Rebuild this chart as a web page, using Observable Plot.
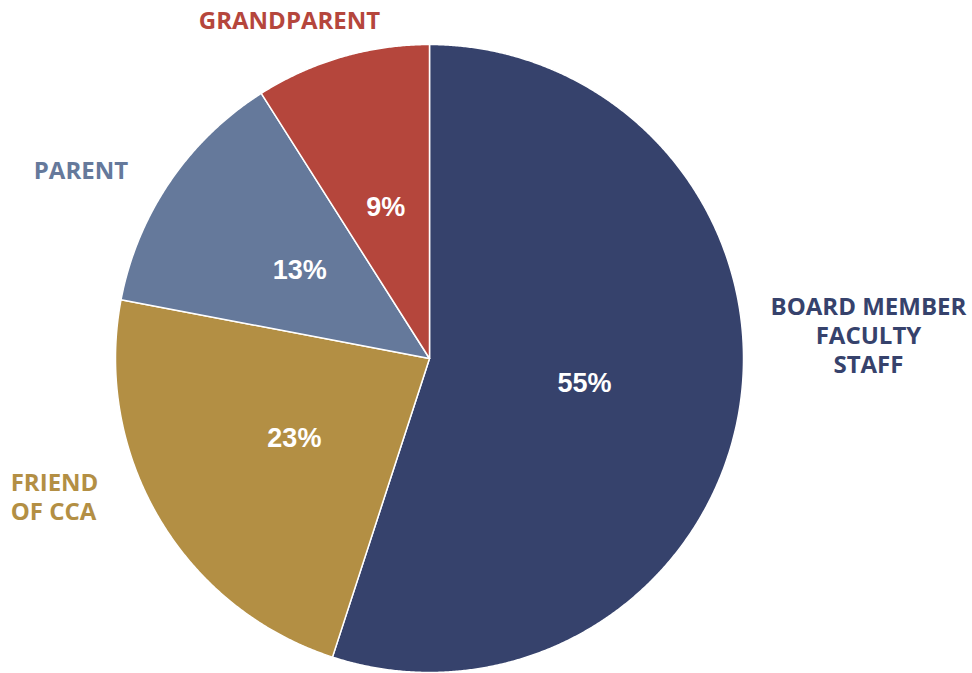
<!DOCTYPE html>
<html>
<head>
<meta charset="utf-8">
<script src="https://cdn.jsdelivr.net/npm/d3@7"></script>
<script src="https://cdn.jsdelivr.net/npm/@observablehq/plot@0.6"></script>
<style>
  html, body { margin: 0; padding: 0; background: #ffffff; }
  #chart svg { display: block; }
</style>
</head>
<body>
<div id="chart"></div>
<script>
// ---- data ----
const categories = ["BOARD MEMBER\nFACULTY\nSTAFF", "FRIEND\nOF CCA", "PARENT", "GRANDPARENT"];
const values = [55, 23, 13, 9];
const valueLabels = ["55%", "23%", "13%", "9%"];
const colors = ["#36426c", "#b38f44", "#65799b", "#b5463c"];

// ---- layout (not data) ----
const W = 972, H = 673;
const cx = 429, cy = 358, R = 314;
// outer label placement: [angle (deg from top, clockwise), radius factor, text-anchor]
const outerLabelPlacement = [
  [86.9, 1.40, "middle"],
  [251.8, 1.404, "start"],
  [298.4, 1.262, "middle"],
  [337.56, 1.168, "middle"]
];

const pie = d3.pie().sort(null).value(d => d)(values);

// polygon points for each slice in unit coords (y up)
const slicePts = [];
pie.forEach((s, i) => {
  const cat = categories[i];
  slicePts.push({cat, x: 0, y: 0});
  const n = Math.max(2, Math.ceil((s.endAngle - s.startAngle) / 0.005));
  for (let k = 0; k <= n; k++) {
    const a = s.startAngle + (s.endAngle - s.startAngle) * k / n;
    slicePts.push({cat, x: Math.sin(a), y: Math.cos(a)});
  }
  slicePts.push({cat, x: 0, y: 0});
});

const innerLabels = pie.map((s, i) => {
  const a = (s.startAngle + s.endAngle) / 2;
  return {text: valueLabels[i], x: 0.5 * Math.sin(a), y: 0.5 * Math.cos(a)};
});

const outerLabels = categories.map((c, i) => {
  const [deg, rf, anchor] = outerLabelPlacement[i];
  const a = deg * Math.PI / 180;
  return {text: c, x: rf * Math.sin(a), y: rf * Math.cos(a), anchor, color: colors[i]};
});

const chart = Plot.plot({
  width: W,
  height: H,
  margin: 0,
  x: {domain: [-cx / R, (W - cx) / R], axis: null},
  y: {domain: [-(H - cy) / R, cy / R], axis: null},
  color: {domain: categories, range: colors},
  style: {background: "#ffffff"},
  marks: [
    Plot.line(slicePts, {
      x: "x", y: "y", z: "cat",
      fill: "cat", stroke: "#ffffff", strokeWidth: 1.5,
      strokeLinejoin: "round", curve: "linear"
    }),
    Plot.text(innerLabels, {
      x: "x", y: "y", text: "text",
      fill: "#ffffff", fontSize: 27, fontWeight: "bold",
      fontFamily: "Liberation Sans, Arial, sans-serif"
    }),
    ...outerLabels.map(d => Plot.text([d], {
      x: "x", y: "y", text: "text",
      fill: d.color, textAnchor: d.anchor,
      fontSize: 24, fontWeight: "bold", lineHeight: 1.21,
      fontFamily: "Open Sans, Noto Sans, sans-serif"
    }))
  ]
});

document.getElementById("chart").appendChild(chart);
</script>
</body>
</html>
